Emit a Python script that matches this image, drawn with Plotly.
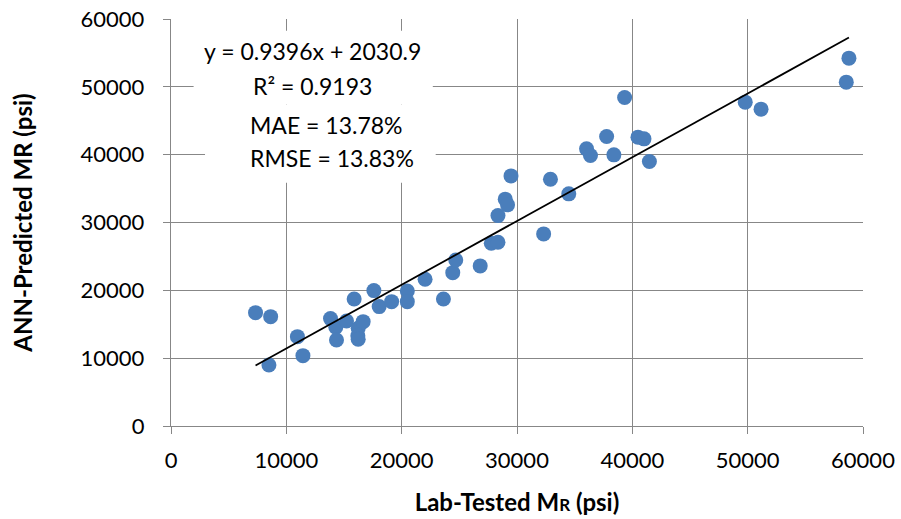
import plotly.graph_objects as go

# Data
lab_tested = [7330, 8640, 8490, 10960, 11440, 13830, 14290, 14350, 15220, 15880,
              16230, 16200, 16230, 16660, 17590, 18050, 19130, 20490, 20490, 22030,
              23620, 24430, 24690, 26810, 27770, 28350, 28350, 28980, 29180, 29480,
              32310, 32900, 34490, 36030, 36370, 37770, 38400, 39330, 40490, 41010,
              41480, 49790, 51160, 58550, 58780]
ann_predicted = [16710, 16120, 9000, 13170, 10370, 15830, 14560, 12680, 15490, 18730,
                 14410, 13300, 12790, 15380, 19960, 17600, 18330, 19910, 18330, 21640,
                 18730, 22610, 24480, 23600, 26950, 27090, 31020, 33440, 32600, 36870,
                 28320, 36380, 34220, 40860, 39870, 42670, 39970, 48420, 42580, 42330,
                 38990, 47740, 46710, 50690, 54230]
slope = 0.9396
intercept = 2030.9
tick_vals = [0, 10000, 20000, 30000, 40000, 50000, 60000]
tick_text = ["0", "10000", "20000", "30000", "40000", "50000", "60000"]

FONT = "Lato"
GRID = "#878787"

fig = go.Figure()
fig.add_trace(go.Scatter(
    x=lab_tested, y=ann_predicted, mode="markers",
    marker=dict(size=15, color="#4A7EBB", line=dict(width=0)),
    showlegend=False, hoverinfo="skip"))

x_line = [min(lab_tested), max(lab_tested)]
y_line = [slope * v + intercept for v in x_line]
fig.add_trace(go.Scatter(
    x=x_line, y=y_line, mode="lines",
    line=dict(color="black", width=1.8),
    showlegend=False, hoverinfo="skip"))

# White text boxes covering gridlines
fig.add_shape(type="rect", xref="x", yref="y", x0=1960, x1=22700, y0=47400, y1=58250,
              fillcolor="white", line=dict(width=0), layer="above")
fig.add_shape(type="rect", xref="x", yref="y", x0=2950, x1=22950, y0=35850, y1=47400,
              fillcolor="white", line=dict(width=0), layer="above")

ann_font = dict(family=FONT, size=23, color="black")
fig.add_annotation(x=12240, y=55220, xref="x", yref="y", text="y = 0.9396x + 2030.9",
                   showarrow=False, font=ann_font, xanchor="center", yanchor="middle")
fig.add_annotation(x=12240, y=50060, xref="x", yref="y", text="R² = 0.9193",
                   showarrow=False, font=ann_font, xanchor="center", yanchor="middle")
fig.add_annotation(x=6650, y=44410, xref="x", yref="y", text="MAE = 13.78%",
                   showarrow=False, font=ann_font, xanchor="left", yanchor="middle")
fig.add_annotation(x=6650, y=39580, xref="x", yref="y", text="RMSE = 13.83%",
                   showarrow=False, font=ann_font, xanchor="left", yanchor="middle")

axis_common = dict(
    range=[0, 60000], tickvals=tick_vals, ticktext=tick_text,
    showgrid=True, gridcolor=GRID, gridwidth=1.4,
    showline=True, linecolor=GRID, linewidth=1.4,
    ticks="outside", ticklen=7, tickcolor=GRID, tickwidth=1.4,
    zeroline=False, automargin=False,
    tickfont=dict(family=FONT, size=22, color="black"),
)

fig.update_layout(
    width=901, height=519,
    margin=dict(l=171, r=38, t=19, b=93),
    paper_bgcolor="white", plot_bgcolor="white",
    xaxis=dict(**axis_common,
               title=dict(text="<b>Lab-Tested M<span style='font-size:17px'>R</span> (psi)</b>",
                          font=dict(family=FONT, size=24, color="black"), standoff=22),
               ticklabelstandoff=7),
    yaxis=dict(**axis_common,
               title=dict(text="<b>ANN-Predicted MR (psi)</b>",
                          font=dict(family=FONT, size=24, color="black"), standoff=41),
               ticklabelstandoff=14),
)

fig.write_html("out.html")
